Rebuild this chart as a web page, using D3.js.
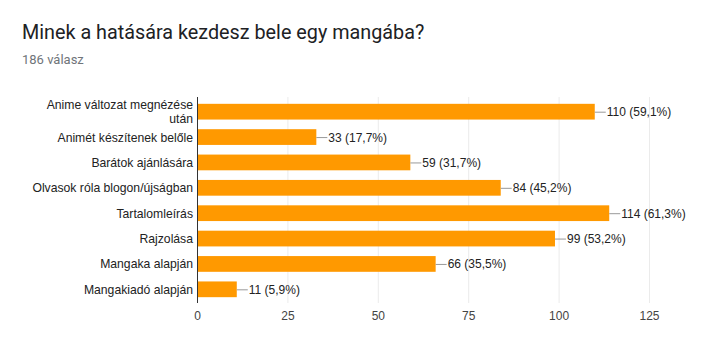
<!DOCTYPE html>
<html><head><meta charset="utf-8">
<script src="https://cdn.jsdelivr.net/npm/d3@7"></script>
<style>body{margin:0;background:#fff;}svg{display:block;}</style>
</head><body>
<script>
const title = "Minek a hatására kezdesz bele egy mangába?";
const subtitle = "186 válasz";
const categories = [
  ["Anime változat megnézése", "után"],
  ["Animét készítenek belőle"],
  ["Barátok ajánlására"],
  ["Olvasok róla blogon/újságban"],
  ["Tartalomleírás"],
  ["Rajzolása"],
  ["Mangaka alapján"],
  ["Mangakiadó alapján"]
];
const values = [110, 33, 59, 84, 114, 99, 66, 11];
const percents = ["59,1%", "17,7%", "31,7%", "45,2%", "61,3%", "53,2%", "35,5%", "5,9%"];
const ticks = [0, 25, 50, 75, 100, 125];

const W = 728, H = 338;
const svg = d3.select("body").append("svg").attr("width", W).attr("height", H);

svg.append("text").attr("x", 22).attr("y", 39)
  .attr("font-family", "Roboto, Arial, sans-serif").attr("font-size", 19.8)
  .attr("fill", "#202124").text(title);
svg.append("text").attr("x", 22).attr("y", 64)
  .attr("font-family", "Roboto, Arial, sans-serif").attr("font-size", 13)
  .attr("fill", "#70757a").text(subtitle);

const x = d3.scaleLinear().domain([0, 125]).range([197, 649]);
const y = d3.scaleBand().domain(d3.range(categories.length)).range([99, 302]).paddingInner(0.38).paddingOuter(0.19);

const font = "Arial, 'Liberation Sans', sans-serif";

// gridlines
svg.append("g").selectAll("line").data(ticks.slice(1)).join("line")
  .attr("x1", d => x(d) + 0.5).attr("x2", d => x(d) + 0.5)
  .attr("y1", 97).attr("y2", 303)
  .attr("stroke", "#ebebeb").attr("stroke-width", 1);

// bars
svg.append("g").selectAll("rect").data(values).join("rect")
  .attr("x", x(0)).attr("y", (d, i) => y(i))
  .attr("width", d => x(d) - x(0)).attr("height", y.bandwidth())
  .attr("fill", "#ff9900");

// baseline axis
svg.append("line").attr("x1", x(0) + 0.5).attr("x2", x(0) + 0.5)
  .attr("y1", 97).attr("y2", 303).attr("stroke", "#333").attr("stroke-width", 1);

// value annotations
const ann = svg.append("g");
values.forEach((v, i) => {
  const cy = y(i) + y.bandwidth() / 2;
  ann.append("line").attr("x1", x(v)).attr("x2", x(v) + 11)
    .attr("y1", cy + 0.5).attr("y2", cy + 0.5).attr("stroke", "#999").attr("stroke-width", 1);
  ann.append("text").attr("x", x(v) + 12).attr("y", cy + 4.5)
    .attr("font-family", font).attr("font-size", 12).attr("fill", "#222")
    .text(`${v} (${percents[i]})`);
});

// category labels
const lab = svg.append("g");
categories.forEach((lines, i) => {
  const cy = y(i) + y.bandwidth() / 2;
  const n = lines.length;
  lines.forEach((t, j) => {
    lab.append("text").attr("x", x(0) - 4)
      .attr("y", cy + 4.5 + (j - (n - 1) / 2) * 14)
      .attr("text-anchor", "end").attr("font-family", font).attr("font-size", 12.2)
      .attr("fill", "#222").text(t);
  });
});

// x axis tick labels
const axis = d3.axisBottom(x).tickValues(ticks).tickSize(0).tickPadding(0);
const gx = svg.append("g").attr("transform", "translate(0,303)").call(axis);
gx.select(".domain").remove();
gx.selectAll("text").attr("font-family", font).attr("font-size", 12).attr("fill", "#444").attr("dy", "0").attr("y", 17);
</script>
</body></html>
